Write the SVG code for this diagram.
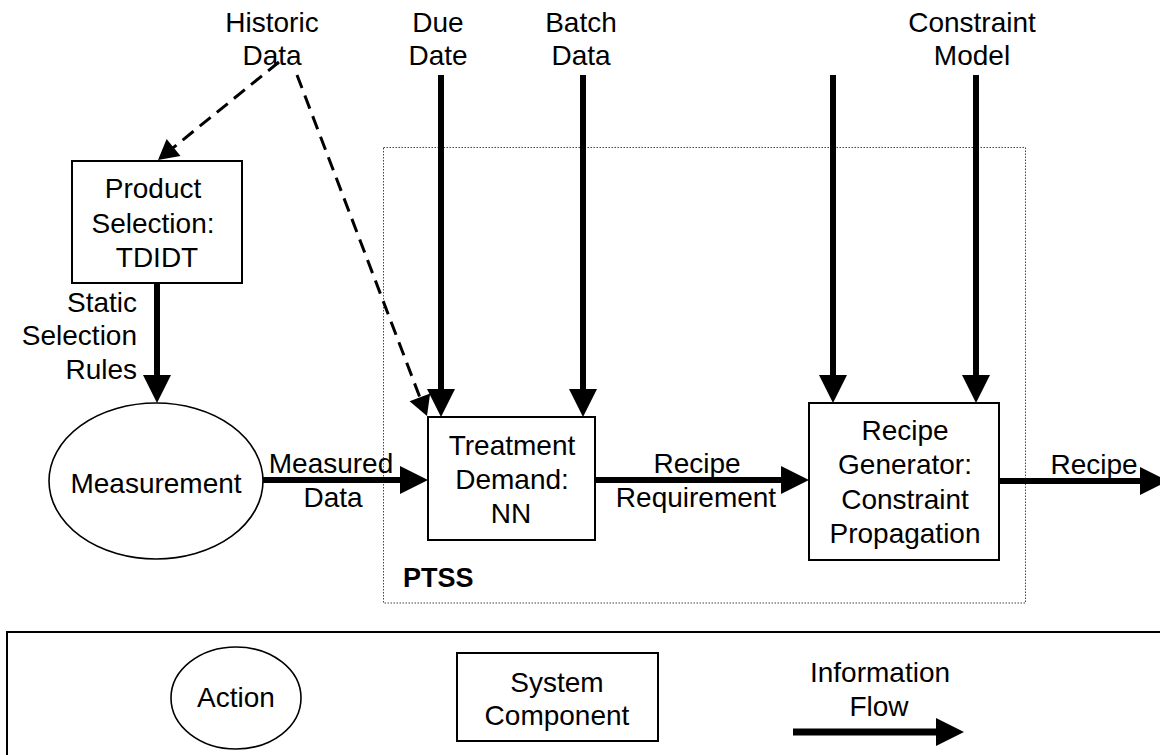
<svg xmlns="http://www.w3.org/2000/svg" width="1160" height="755" viewBox="0 0 1160 755">
  <style>
    text { font-family: "Liberation Sans", Arial, sans-serif; font-size: 28px; fill: #000; }
    .c { text-anchor: middle; }
    .r { text-anchor: end; }
    .box { fill: #fff; stroke: #000; stroke-width: 2; }
    .oval { fill: #fff; stroke: #000; stroke-width: 1.6; }
    .flow { fill: none; stroke: #000; stroke-width: 6; marker-end: url(#head); }
    .hint { fill: none; stroke: #000; stroke-width: 3; stroke-dasharray: 14 8; marker-end: url(#thin); }
    .group { fill: none; stroke: #444; stroke-width: 1; stroke-dasharray: 1.5 1.5; }
  </style>
  <defs>
    <marker id="head" markerUnits="userSpaceOnUse" markerWidth="28" markerHeight="28" refX="8" refY="14" orient="auto" overflow="visible">
      <path d="M0,0 L28,14 L0,28 Z" fill="#000"/>
    </marker>
    <marker id="thin" markerUnits="userSpaceOnUse" markerWidth="20" markerHeight="22" refX="6" refY="11" orient="auto" overflow="visible">
      <path d="M0,0 L20,11 L0,22 Z" fill="#000"/>
    </marker>
  </defs>

  <rect width="1160" height="755" fill="#fff"/>

  <!-- PTSS subsystem boundary -->
  <g id="ptss">
    <rect class="group" x="383.5" y="147.5" width="642" height="455.5"/>
    <text x="403" y="587" style="font-weight:bold;font-size:27px">PTSS</text>
  </g>

  <!-- data sources -->
  <g id="historic-data">
    <text class="c" x="272" y="32">Historic</text>
    <text class="c" x="272" y="65">Data</text>
  </g>
  <g id="due-date">
    <text class="c" x="438" y="32">Due</text>
    <text class="c" x="438" y="65">Date</text>
  </g>
  <g id="batch-data">
    <text class="c" x="581" y="32">Batch</text>
    <text class="c" x="581" y="65">Data</text>
  </g>
  <g id="constraint-model">
    <text class="c" x="972" y="32">Constraint</text>
    <text class="c" x="972" y="65">Model</text>
  </g>

  <!-- components -->
  <g id="product-selection">
    <rect class="box" x="72" y="161" width="170" height="122"/>
    <text class="c" x="153" y="198">Product</text>
    <text class="c" x="153" y="233">Selection:</text>
    <text class="c" x="157" y="267">TDIDT</text>
  </g>
  <g id="measurement">
    <ellipse class="oval" cx="156" cy="481" rx="107" ry="78"/>
    <text class="c" x="156" y="493">Measurement</text>
  </g>
  <g id="treatment-demand">
    <rect class="box" x="428" y="417" width="167" height="123"/>
    <text class="c" x="512" y="455">Treatment</text>
    <text class="c" x="512" y="489">Demand:</text>
    <text class="c" x="511" y="523">NN</text>
  </g>
  <g id="recipe-generator">
    <rect class="box" x="809" y="403" width="190" height="157"/>
    <text class="c" x="905" y="440">Recipe</text>
    <text class="c" x="905" y="474">Generator:</text>
    <text class="c" x="905" y="509">Constraint</text>
    <text class="c" x="905" y="543">Propagation</text>
  </g>

  <!-- information flows -->
  <g id="connectors">
    <path class="hint" d="M279,62 L168.9,151.2"/>
    <path class="hint" d="M297,75 L422,402.9"/>
    <path class="flow" d="M157,283 L157,383"/>
    <path class="flow" d="M263,480 L408,480"/>
    <path class="flow" d="M441,75 L441,397"/>
    <path class="flow" d="M583,75 L583,397"/>
    <path class="flow" d="M595,480 L789,480"/>
    <path class="flow" d="M833,75 L833,383"/>
    <path class="flow" d="M976,75 L976,383"/>
    <path class="flow" d="M999,481 L1148,481"/>
  </g>

  <!-- flow labels -->
  <g id="flow-labels">
    <text class="r" x="137" y="312">Static</text>
    <text class="r" x="137" y="345">Selection</text>
    <text class="r" x="137" y="379">Rules</text>
    <text class="c" x="331" y="473">Measured</text>
    <text class="c" x="333" y="507">Data</text>
    <text class="c" x="697" y="473">Recipe</text>
    <text class="c" x="696" y="507">Requirement</text>
    <text class="c" x="1094" y="474">Recipe</text>
  </g>

  <!-- key -->
  <g id="legend">
    <rect x="7" y="632" width="1160" height="130" fill="none" stroke="#000" stroke-width="2"/>
    <ellipse class="oval" cx="236" cy="698" rx="65" ry="51"/>
    <text class="c" x="236" y="707">Action</text>
    <rect class="box" x="457" y="653" width="201" height="88"/>
    <text class="c" x="557" y="692">System</text>
    <text class="c" x="557" y="725">Component</text>
    <text class="c" x="880" y="682">Information</text>
    <text class="c" x="879" y="716">Flow</text>
    <path d="M793,732 L944,732" fill="none" stroke="#000" stroke-width="7" marker-end="url(#head)"/>
  </g>
</svg>
